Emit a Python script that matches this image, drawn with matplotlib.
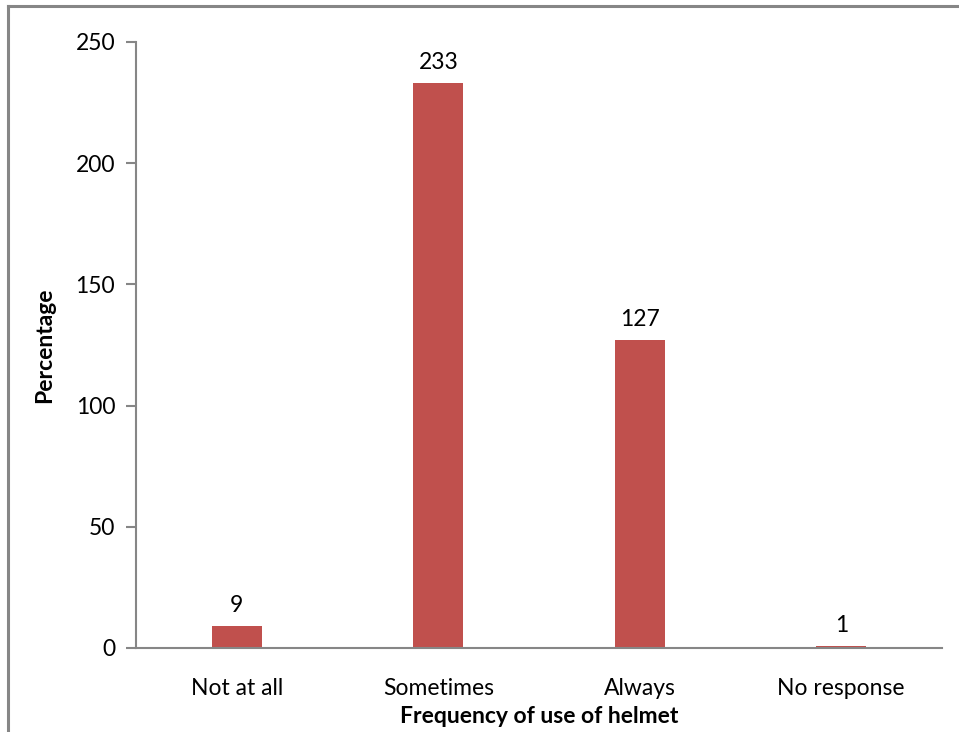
import matplotlib.pyplot as plt
from matplotlib.lines import Line2D

# data
categories = ['Not at all', 'Sometimes', 'Always', 'No response']
values = [9, 233, 127, 1]
y_ticks = [0, 50, 100, 150, 200, 250]

bar_color = '#C0504D'
axis_color = '#868686'

plt.rcParams['font.family'] = ['Lato', 'DejaVu Sans']

fig = plt.figure(figsize=(9.59, 7.32), dpi=100)
ax = fig.add_axes([136 / 959, 1 - 648 / 732, (942 - 136) / 959, (648 - 42) / 732])

x = range(len(categories))
bars = ax.bar(x, values, width=0.25, color=bar_color, zorder=2)
for xi, v in zip(x, values):
    ax.annotate(str(v), (xi, v), xytext=(0, 7), textcoords='offset points',
                ha='center', va='bottom', fontsize=16.5)

ax.set_xlim(-0.5, len(categories) - 0.5)
ax.set_ylim(0, 250)
ax.set_yticks(y_ticks)
ax.set_xticks(list(x))
ax.set_xticklabels(categories, fontsize=16.5)
ax.tick_params(axis='x', length=0, pad=21.5)
ax.tick_params(axis='y', length=7, width=1.5, color=axis_color, labelsize=16.5, pad=8)

for side in ['top', 'right']:
    ax.spines[side].set_visible(False)
for side in ['left', 'bottom']:
    ax.spines[side].set_color(axis_color)
    ax.spines[side].set_linewidth(1.5)

ax.set_ylabel('Percentage', fontsize=16.5, fontweight='bold', labelpad=15)
ax.set_xlabel('Frequency of use of helmet', fontsize=16.5, fontweight='bold', labelpad=5)

# outer frame of the chart area (only top and left edges visible)
fig.add_artist(Line2D([8 / 959, 8 / 959], [0, 1 - 5.5 / 732], color=axis_color, lw=2.2,
                      transform=fig.transFigure))
fig.add_artist(Line2D([8 / 959, 958 / 959], [1 - 5.5 / 732, 1 - 5.5 / 732], color=axis_color,
                      lw=2.2, transform=fig.transFigure))

fig.savefig('out.png', dpi=100)
